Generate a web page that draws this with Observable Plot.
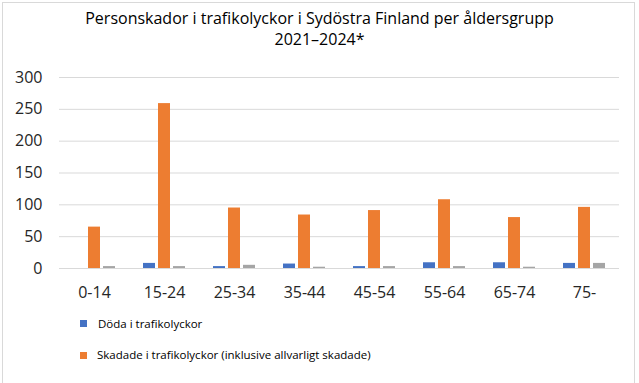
<!DOCTYPE html>
<html>
<head>
<meta charset="utf-8">
<script src="https://cdn.jsdelivr.net/npm/d3@7"></script>
<script src="https://cdn.jsdelivr.net/npm/@observablehq/plot@0.6"></script>
<style>
  html, body { margin: 0; padding: 0; background: #fff; }
  #wrap { position: relative; width: 639px; height: 383px; overflow: hidden; font-family: "Open Sans", sans-serif; color: #262626; }
  #frame { position: absolute; left: 2px; top: 2px; width: 633px; height: 400px; border: 1px solid #d9d9d9; box-sizing: border-box; }
  #title { position: absolute; left: 0; top: 8px; width: 639px; text-align: center; font-size: 16px; line-height: 21px; color: #000; }
  #chart { position: absolute; left: 0; top: 0; }
  .leg { position: absolute; font-size: 11.5px; color: #000; white-space: nowrap; }
  .sw { position: absolute; width: 7px; height: 7px; }
</style>
</head>
<body>
<div id="wrap">
  <div id="frame"></div>
  <div id="chart"></div>
  <div id="title">Personskador i trafikolyckor i Sydöstra Finland per åldersgrupp<br>2021–2024*</div>
  <div id="legend"></div>
</div>
<script>
const categories = ["0-14", "15-24", "25-34", "35-44", "45-54", "55-64", "65-74", "75-"];
const seriesNames = ["Döda i trafikolyckor", "Skadade i trafikolyckor (inklusive allvarligt skadade)", "Serie 3"];
const doda = [0, 8, 3, 7, 3, 9, 9, 8];
const skadade = [65, 259, 95, 84, 91, 108, 80, 96];
const serie3 = [3, 3, 5, 2, 3, 3, 2, 8];
const yTicks = [0, 50, 100, 150, 200, 250, 300];
const colors = ["#4472C4", "#ED7D31", "#A5A5A5"];
const legendSeries = [0, 1];

const values = [doda, skadade, serie3];
const data = [];
categories.forEach((c, i) => {
  seriesNames.forEach((s, j) => data.push({cat: c, series: s, value: values[j][i]}));
});

const chart = Plot.plot({
  width: 639,
  height: 310,
  marginTop: 77,
  marginBottom: 42,
  marginLeft: 55,
  marginRight: 17,
  style: {fontFamily: "Open Sans, sans-serif", fontSize: "16px", color: "#262626", background: "transparent"},
  fx: {domain: categories, padding: 0, axis: "bottom", tickSize: 0, tickPadding: 18, label: null},
  x: {domain: seriesNames, axis: null, paddingInner: 0.22, paddingOuter: 0.88},
  y: {domain: [0, 300], ticks: yTicks, tickSize: 0, tickPadding: 17, label: null},
  color: {domain: seriesNames, range: colors},
  marks: [
    Plot.ruleY(yTicks, {stroke: "#d9d9d9", strokeWidth: 1}),
    Plot.barY(data, {fx: "cat", x: "series", y: "value", fill: "series"})
  ]
});
document.getElementById("chart").appendChild(chart);

const legend = document.getElementById("legend");
const legPos = [{sx: 80, sy: 320, tx: 98, ty: 316}, {sx: 80, sy: 352, tx: 97, ty: 347}];
legendSeries.forEach((k, i) => {
  const p = legPos[i];
  const sw = document.createElement("div");
  sw.className = "sw";
  sw.style.left = p.sx + "px"; sw.style.top = p.sy + "px"; sw.style.background = colors[k];
  legend.appendChild(sw);
  const t = document.createElement("div");
  t.className = "leg";
  t.style.left = p.tx + "px"; t.style.top = p.ty + "px";
  t.textContent = seriesNames[k];
  legend.appendChild(t);
});
</script>
</body>
</html>
